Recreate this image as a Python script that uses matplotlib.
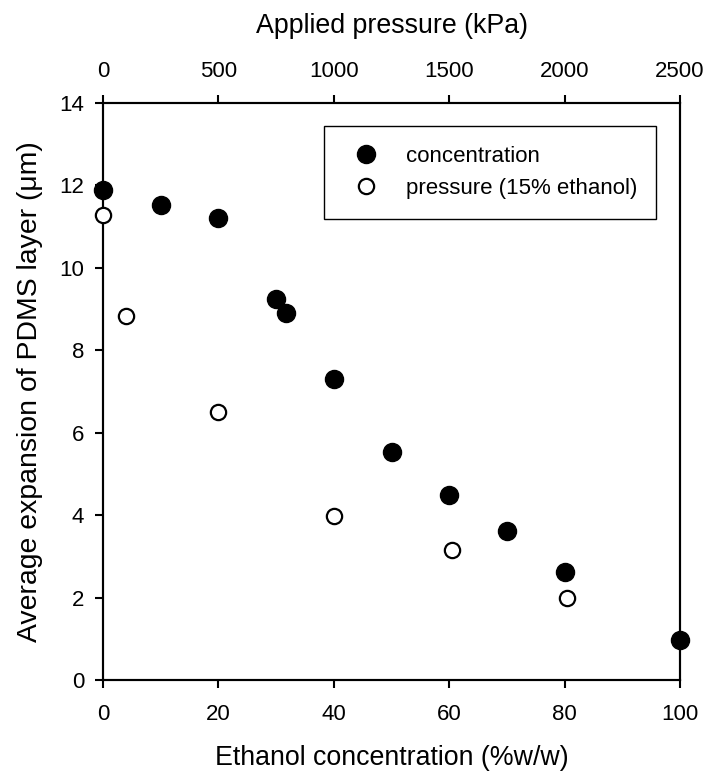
import matplotlib
matplotlib.use('Agg')
import matplotlib.pyplot as plt

# ---- data ----
conc_x = [0, 10, 20, 30, 31.7, 40, 50, 60, 70, 80, 100]          # ethanol %w/w
conc_y = [11.88, 11.52, 11.2, 9.24, 8.9, 7.31, 5.54, 4.5, 3.62, 2.63, 0.97]

press_x = [0, 100, 500, 1000, 1510, 2010]                        # kPa
press_y = [11.29, 8.82, 6.5, 3.98, 3.15, 1.98]

bottom_ticks = [0, 20, 40, 60, 80, 100]
top_ticks = [0, 500, 1000, 1500, 2000, 2500]
y_ticks = [0, 2, 4, 6, 8, 10, 12, 14]

plt.rcParams['font.family'] = ['Liberation Sans', 'DejaVu Sans']

fig = plt.figure(figsize=(7.08, 7.75), dpi=100)
ax = fig.add_axes([0.1455, 0.1226, 0.8150, 0.7445])
ax2 = ax.twiny()

h1, = ax.plot(conc_x, conc_y, 'o', color='black', markersize=13,
              clip_on=False, zorder=5, label='concentration')
h2, = ax2.plot(press_x, press_y, 'o', markerfacecolor='white',
               markeredgecolor='black', markeredgewidth=1.6, markersize=11,
               clip_on=False, zorder=5, label='pressure (15% ethanol)')

ax.set_xlim(0, 100)
ax2.set_xlim(0, 2500)
ax.set_ylim(0, 14)
ax.set_xticks(bottom_ticks)
ax2.set_xticks(top_ticks)
ax.set_yticks(y_ticks)

for a in (ax, ax2):
    for s in a.spines.values():
        s.set_linewidth(1.5)
    a.tick_params(direction='out', length=6, width=1.5, labelsize=16)
ax.tick_params(axis='x', pad=11)
ax.tick_params(axis='y', pad=7.5, right=False)
ax2.tick_params(axis='x', pad=9)

ax.set_xlabel('Ethanol concentration (%w/w)', fontsize=19.3, labelpad=15)
ax2.set_xlabel('Applied pressure (kPa)', fontsize=19.3, labelpad=20)
ax.set_ylabel('Average expansion of PDMS layer (\u03bcm)', fontsize=20.4, labelpad=12)

leg = ax.legend(handles=[h1, h2], loc='upper left',
                bbox_to_anchor=(0.383, 0.960, 0.575, 0.0), mode='expand',
                fontsize=16, frameon=True, fancybox=False, framealpha=1,
                edgecolor='black', borderpad=0.9, handletextpad=0.8,
                labelspacing=0.5, borderaxespad=0)
leg.get_frame().set_linewidth(1.0)
leg.set_zorder(10)

fig.savefig('out.png', dpi=100)
